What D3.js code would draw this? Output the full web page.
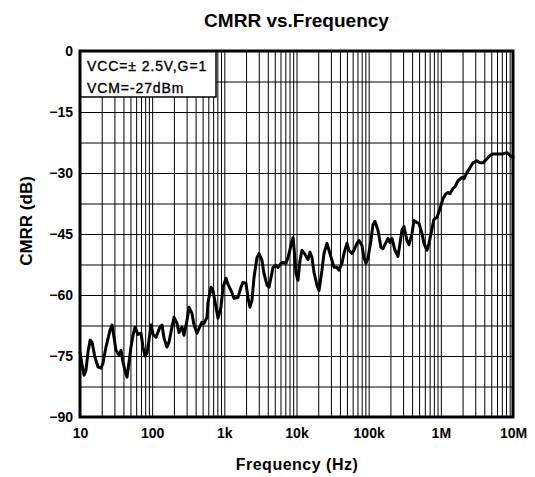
<!DOCTYPE html>
<html>
<head>
<meta charset="utf-8">
<script src="https://cdn.jsdelivr.net/npm/d3@7"></script>
<style>
  html, body { margin: 0; padding: 0; background: #fff; }
  svg { display: block; font-family: "Liberation Sans", Arial, sans-serif; }
</style>
</head>
<body>
<svg id="chart" width="535" height="477"></svg>
<script>
// ---- data ----
const freq = [10, 10.7, 11.4, 12.1, 12.9, 13.8, 14.7, 16.1, 17.8, 19.5, 20.8, 22.9, 26.0, 27.8, 29.6, 31.5, 34.7, 37.0, 39.4, 42.0,
  44.8, 47.8, 50.9, 54.3, 57.8, 63.6, 70.0, 74.6, 79.5, 84.8, 90.4, 96.3, 103, 113, 120, 128, 137, 146, 160, 171,
  188, 201, 221, 235, 259, 276, 304, 324, 356, 380, 418, 446, 490, 523, 575, 594, 653, 696, 766, 817,
  899, 958, 1054, 1124, 1237, 1361, 1546, 1701, 1813, 1995, 2127, 2267, 2417, 2576, 2835, 3022, 3325, 3544, 3900, 4158,
  4432, 4724, 5198, 5541, 6097, 6499, 7151, 7622, 8387, 8940, 9231, 9838, 10487, 11178, 11914, 13110, 14425, 15376, 16390, 17470,
  19224, 20490, 22546, 24033, 26445, 28187, 31016, 33061, 36380, 38777, 42669, 45481, 50046, 53345, 58700, 62568, 68848, 73385, 80752, 86073,
  91745, 97790, 107600, 114700, 122300, 134600, 148100, 157900, 173700, 185200, 197400, 210400, 231500, 254800, 271600, 289500, 308500, 339500, 361900, 398300,
  424500, 467000, 497900, 547900, 584000, 642700, 685000, 753900, 803500, 884100, 972900, 1071000, 1178000, 1256000, 1339000, 1474000, 1570000, 1728000, 1963000, 2093000,
  2302000, 2534000, 2789000, 3169000, 3486000, 3837000, 4358000, 4797000, 5279000, 5998000, 6600000, 7263000, 8252000, 9082000, 10000000];
const cmrr = [-74.1, -77.2, -79.7, -78.5, -74.1, -71.1, -71.6, -75.3, -77.7, -78.0, -76.8, -72.8, -68.7, -67.4, -70.4, -73.6, -74.8, -73.6, -76.5, -78.5,
  -80.2, -76.5, -72.8, -69.9, -67.9, -69.7, -69.4, -72.8, -75.0, -74.3, -71.1, -67.4, -69.7, -70.4, -69.2, -67.9, -67.4, -70.6, -72.8, -71.6,
  -67.9, -65.5, -67.0, -69.2, -67.9, -69.9, -66.2, -63.0, -64.5, -67.4, -69.4, -68.2, -66.7, -67.0, -65.5, -61.8, -58.1, -58.9, -63.0, -65.7,
  -63.0, -58.1, -55.9, -57.4, -58.9, -60.8, -60.6, -58.1, -56.9, -57.1, -60.6, -63.0, -61.3, -55.7, -50.8, -49.8, -51.5, -54.7, -57.6, -58.1,
  -55.7, -53.2, -52.7, -53.2, -52.2, -52.0, -52.2, -50.8, -47.8, -45.9, -48.3, -54.7, -56.4, -51.5, -49.0, -50.0, -51.3, -49.5, -50.8, -54.4,
  -57.6, -58.9, -53.9, -49.8, -47.3, -49.0, -51.5, -53.2, -53.2, -53.9, -52.2, -49.8, -47.3, -49.0, -49.8, -49.0, -47.3, -46.6, -47.8, -50.8,
  -52.2, -51.0, -46.6, -42.7, -41.9, -44.1, -48.3, -48.6, -47.1, -46.1, -47.1, -46.1, -49.0, -50.5, -47.3, -44.1, -43.2, -46.6, -47.6, -44.9,
  -41.7, -42.2, -42.4, -44.9, -47.3, -49.0, -47.3, -43.7, -41.4, -40.9, -38.8, -36.3, -35.1, -34.8, -35.1, -33.8, -33.4, -31.9, -31.1, -31.4,
  -29.9, -28.7, -27.5, -27.0, -27.5, -27.5, -26.5, -25.7, -25.3, -25.3, -25.3, -25.3, -25.0, -25.7, -26.2];

const xTickValues = [10, 100, 1e3, 1e4, 1e5, 1e6, 1e7];
const xTickLabels = ["10", "100", "1k", "10k", "100k", "1M", "10M"];
const yTickValues = [0, -15, -30, -45, -60, -75, -90];
const yGridStep = 7.5;
const titleText = "CMRR vs.Frequency";
const xTitle = "Frequency (Hz)";
const yTitle = "CMRR (dB)";
const legendLines = ["VCC=\u00B1 2.5V,G=1", "VCM=-27dBm"];

// ---- layout ----
const L = 80, R = 513, T = 51, B = 417;
const svg = d3.select("#chart");
const x = d3.scaleLog().domain([10, 1e7]).range([L, R]);
const y = d3.scaleLinear().domain([-90, 0]).range([B, T]);

// grid values
const vGrid = [];
for (let d = 1; d < 7; d++) for (let m = 1; m <= 9; m++) vGrid.push(m * Math.pow(10, d));
vGrid.push(1e7);
const hGrid = d3.range(-90, 0.001, yGridStep);

// vertical grid via axis
svg.append("g")
  .attr("transform", `translate(0,${B})`)
  .call(d3.axisBottom(x).tickValues(vGrid).tickSize(-(B - T)).tickFormat(""))
  .call(g => g.select(".domain").remove())
  .call(g => g.selectAll("line").attr("stroke", "#000").attr("stroke-width", 1));

// horizontal grid via axis
svg.append("g")
  .attr("transform", `translate(${L},0)`)
  .call(d3.axisLeft(y).tickValues(hGrid).tickSize(-(R - L)).tickFormat(""))
  .call(g => g.select(".domain").remove())
  .call(g => g.selectAll("line").attr("stroke", "#000").attr("stroke-width", 1));

// legend box (covers grid)
const lg = svg.append("g");
lg.append("rect").attr("x", L).attr("y", T).attr("width", 136).attr("height", 46)
  .attr("fill", "#fff").attr("stroke", "#000").attr("stroke-width", 1.5);
lg.selectAll("text").data(legendLines).join("text")
  .attr("x", L + 7).attr("y", (d, i) => 71 + i * 22)
  .attr("font-size", 14).attr("letter-spacing", "0.9px").attr("fill", "#000")
  .attr("stroke", "#000").attr("stroke-width", 0.35)
  .text(d => d);

// curve
const pts = freq.map((f, i) => [f, cmrr[i]]);
svg.append("path").datum(pts)
  .attr("fill", "none").attr("stroke", "#000").attr("stroke-width", 3)
  .attr("stroke-linejoin", "round").attr("stroke-linecap", "round")
  .attr("d", d3.line().x(d => x(d[0])).y(d => y(d[1])));

// frame
svg.append("rect").attr("x", L).attr("y", T).attr("width", R - L).attr("height", B - T)
  .attr("fill", "none").attr("stroke", "#000").attr("stroke-width", 3);

// x tick labels
svg.append("g")
  .attr("transform", `translate(0,${B})`)
  .call(d3.axisBottom(x).tickValues(xTickValues).tickSize(0).tickPadding(11)
    .tickFormat((d, i) => xTickLabels[i]))
  .call(g => g.select(".domain").remove())
  .call(g => g.selectAll("text").attr("font-size", 14).attr("font-weight", "bold")
    .attr("fill", "#000").attr("font-family", "Liberation Sans, Arial, sans-serif"));

// y tick labels
svg.append("g")
  .attr("transform", `translate(${L},0)`)
  .call(d3.axisLeft(y).tickValues(yTickValues).tickSize(0).tickPadding(7))
  .call(g => g.select(".domain").remove())
  .call(g => g.selectAll("text").attr("font-size", 14).attr("font-weight", "bold")
    .attr("fill", "#000").attr("font-family", "Liberation Sans, Arial, sans-serif"));

// titles
svg.append("text").attr("x", (L + R) / 2).attr("y", 27).attr("text-anchor", "middle")
  .attr("font-size", 19).attr("font-weight", "bold").text(titleText);
svg.append("text").attr("x", 297).attr("y", 470).attr("text-anchor", "middle")
  .attr("font-size", 16).attr("font-weight", "bold").attr("letter-spacing", "0.5px").text(xTitle);
svg.append("text").attr("transform", "translate(32,221) rotate(-90)").attr("text-anchor", "middle")
  .attr("font-size", 17).attr("font-weight", "bold").text(yTitle);
</script>
</body>
</html>
